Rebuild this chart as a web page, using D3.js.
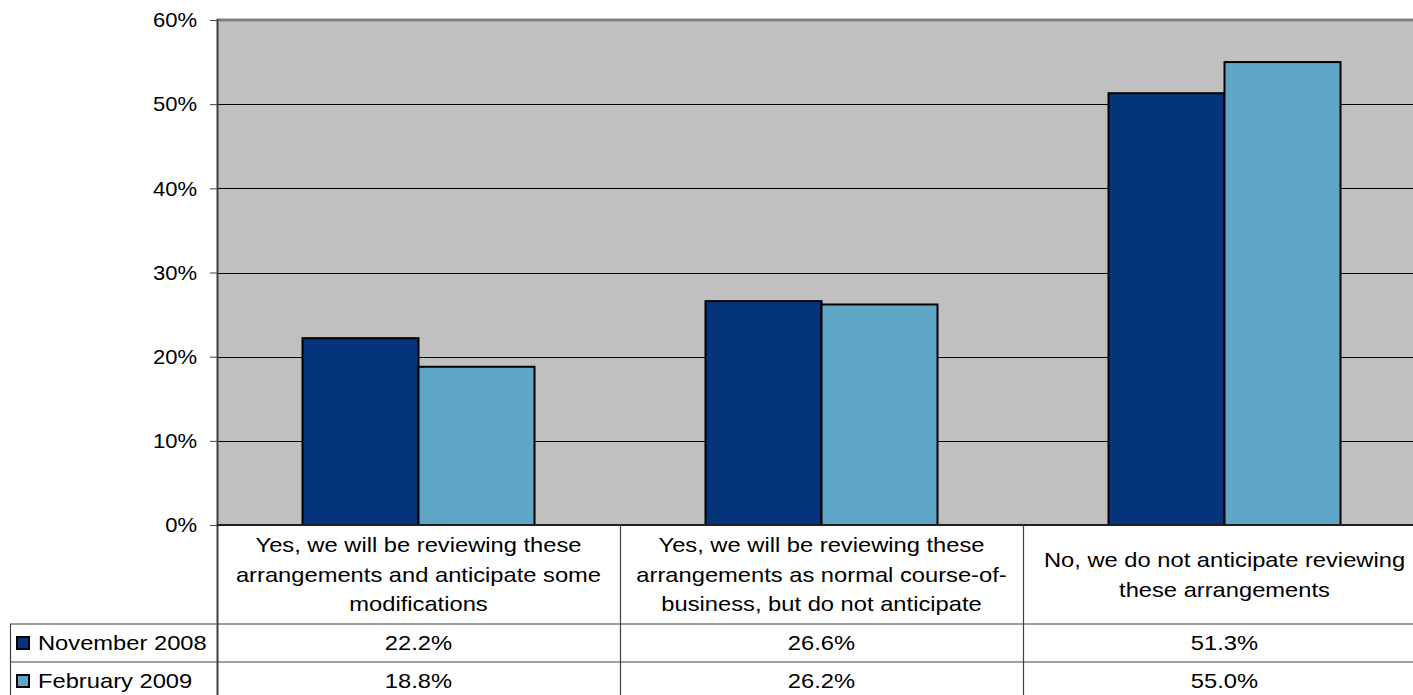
<!DOCTYPE html>
<html>
<head>
<meta charset="utf-8">
<script src="https://cdn.jsdelivr.net/npm/d3@7"></script>
<style>
  body { margin: 0; background: #fff; }
  svg { display: block; font-family: "Liberation Sans", Arial, sans-serif; }
</style>
</head>
<body>
<div id="d3-container"></div>
<script>
// Chart data
const categories = [
  ["Yes, we will be reviewing these", "arrangements and anticipate some", "modifications"],
  ["Yes, we will be reviewing these", "arrangements as normal course-of-", "business, but do not anticipate"],
  ["No, we do not anticipate reviewing", "these arrangements"]
];
const seriesNames = ["November 2008", "February 2009"];
const nov2008 = [22.2, 26.6, 51.3];
const feb2009 = [18.8, 26.2, 55.0];
const yTicks = [0, 10, 20, 30, 40, 50, 60];

const colors = ["#04347A", "#60A6C6"];
const values = [nov2008, feb2009];

// Chart dimensions
const width = 1413;
const height = 695;
const plotLeft = 217;
const plotTop = 20;
const plotBottom = 525;
const catWidth = 403;
const labelRowBottom = 624;
const rowHeight = 38;
const tableStretch = 1.13; // text in the original table is drawn a bit wider

const svg = d3
  .select("#d3-container")
  .append("svg")
  .attr("width", width)
  .attr("height", height);

// helper: horizontally stretched text
function addText(g, x, y, str, anchor) {
  return g.append("text")
    .attr("transform", `translate(${x}, ${y}) scale(${tableStretch}, 1)`)
    .attr("text-anchor", anchor || "middle")
    .attr("dy", "0.35em")
    .style("font-size", "21px")
    .text(str);
}

// X scale (categories extend past the right edge, like the original)
const xScale = d3
  .scaleBand()
  .domain(d3.range(categories.length))
  .range([plotLeft, plotLeft + catWidth * categories.length]);

const xInner = d3
  .scaleBand()
  .domain(d3.range(seriesNames.length))
  .range([0, catWidth])
  .paddingOuter(0.737)
  .paddingInner(0);

// Y scale
const yScale = d3.scaleLinear().domain([0, 60]).range([plotBottom, plotTop]);

// Plot background
svg.append("rect")
  .attr("x", plotLeft)
  .attr("y", plotTop)
  .attr("width", width - plotLeft)
  .attr("height", plotBottom - plotTop)
  .attr("fill", "#C0C0C0");

// Gridlines
svg.append("g")
  .selectAll("line")
  .data(yTicks.filter(t => t > 0 && t < 60))
  .enter()
  .append("line")
  .attr("x1", plotLeft)
  .attr("x2", width)
  .attr("y1", d => Math.round(yScale(d)) + 0.5)
  .attr("y2", d => Math.round(yScale(d)) + 0.5)
  .attr("stroke", "#000")
  .attr("stroke-width", 1);

// Top border of plot
svg.append("line")
  .attr("x1", plotLeft)
  .attr("x2", width)
  .attr("y1", plotTop)
  .attr("y2", plotTop)
  .attr("stroke", "#808080")
  .attr("stroke-width", 3);

// Bars
svg.append("g")
  .selectAll(".bar-group")
  .data(values)
  .enter()
  .append("g")
  .attr("class", "bar-group")
  .each(function (series, si) {
    d3.select(this)
      .selectAll("rect")
      .data(series)
      .enter()
      .append("rect")
      .attr("x", (d, i) => xScale(i) + xInner(si))
      .attr("y", d => yScale(d))
      .attr("width", xInner.bandwidth())
      .attr("height", d => plotBottom - yScale(d))
      .attr("fill", colors[si])
      .attr("stroke", "#000")
      .attr("stroke-width", 2);
  });

// Y axis
const yAxis = d3.axisLeft(yScale)
  .tickValues(yTicks)
  .tickSize(7)
  .tickPadding(12)
  .tickFormat(d => d + "%");
const yAxisG = svg.append("g")
  .attr("transform", `translate(${plotLeft}, 0)`)
  .call(yAxis);
yAxisG.select(".domain").remove();
yAxisG.selectAll("line").attr("stroke", "#404040");
yAxisG.selectAll("text")
  .attr("fill", "#000")
  .attr("x", -20 / 1.05)
  .attr("transform", "scale(1.05, 1)")
  .style("font-size", "21px")
  .style("font-family", "'Liberation Sans', Arial, sans-serif");

// Left axis line
svg.append("line")
  .attr("x1", plotLeft + 0.5)
  .attr("x2", plotLeft + 0.5)
  .attr("y1", plotTop - 1)
  .attr("y2", height)
  .attr("stroke", "#404040")
  .attr("stroke-width", 2);

// Bottom axis line
svg.append("line")
  .attr("x1", plotLeft)
  .attr("x2", width)
  .attr("y1", plotBottom)
  .attr("y2", plotBottom)
  .attr("stroke", "#202020")
  .attr("stroke-width", 2);

// Data table grid
const tableLines = svg.append("g").attr("stroke", "#404040").attr("stroke-width", 1.2);
[labelRowBottom, labelRowBottom + rowHeight].forEach(y => {
  tableLines.append("line")
    .attr("x1", 10).attr("x2", width)
    .attr("y1", y).attr("y2", y);
});
tableLines.append("line")
  .attr("x1", 10.5).attr("x2", 10.5)
  .attr("y1", labelRowBottom).attr("y2", height);
d3.range(1, categories.length).forEach(i => {
  tableLines.append("line")
    .attr("x1", xScale(i) + 0.5).attr("x2", xScale(i) + 0.5)
    .attr("y1", plotBottom).attr("y2", height);
});

// Category labels
const lineH = 29.5;
const labelG = svg.append("g").attr("fill", "#000");
categories.forEach((lines, i) => {
  const cx = xScale(i) + catWidth / 2;
  const mid = (plotBottom + labelRowBottom) / 2;
  const start = mid - (lines.length - 1) * lineH / 2;
  lines.forEach((ln, j) => addText(labelG, cx, start + j * lineH, ln));
});

// Table values and legend keys
values.forEach((series, si) => {
  const cy = labelRowBottom + rowHeight * si + rowHeight / 2;
  const rowG = svg.append("g");
  series.forEach((d, i) => addText(rowG, xScale(i) + catWidth / 2, cy, d.toFixed(1) + "%"));

  rowG.append("rect")
    .attr("x", 17)
    .attr("y", cy - 6)
    .attr("width", 12)
    .attr("height", 12)
    .attr("fill", colors[si])
    .attr("stroke", "#000")
    .attr("stroke-width", 2);
  addText(rowG, 38, cy, seriesNames[si], "start");
});
</script>
</body>
</html>
